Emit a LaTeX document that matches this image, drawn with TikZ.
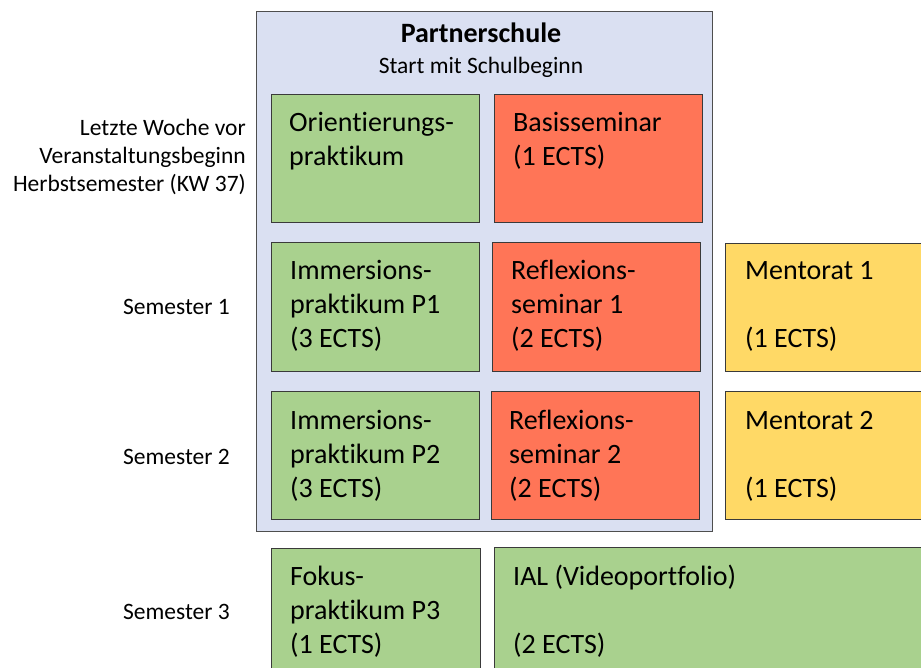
\documentclass[tikz,border=0pt]{standalone}
\usepackage{fontspec}
\setmainfont{Carlito}[RawFeature={-liga;-clig;-calt;-dlig}]
\definecolor{cgreen}{HTML}{A9D18E}
\definecolor{cred}{HTML}{FF7557}
\definecolor{cyellow}{HTML}{FFD966}
\definecolor{cblue}{HTML}{DAE0F2}
\definecolor{cborder}{HTML}{3A3A3A}
\begin{document}
\begin{tikzpicture}[x=1pt,y=-1pt,
  box/.style={draw=cborder, line width=0.9pt, anchor=north west, inner sep=0pt, outer sep=0pt},
  txt/.style={anchor=base west, align=left, inner sep=0pt, font=\fontsize{28}{34}\selectfont},
  lbl/.style={anchor=base east, align=right, inner sep=0pt, font=\fontsize{23.5}{28}\selectfont},
  head/.style={anchor=base, inner sep=0pt}]
\useasboundingbox (0,0) rectangle (921,668);
\clip (0,0) rectangle (921,668);
\fill[white] (0,0) rectangle (921,668);
% outer frame
\node[box, fill=cblue, draw=cborder!90, minimum width=456, minimum height=520] (ps) at (256,11) {};
\node[head, font=\bfseries\fontsize{28}{34}\selectfont] (pst) at (481,43) {Partnerschule};
\node[head, font=\fontsize{23.5}{28}\selectfont] (pss) at (481,74) {Start mit Schulbeginn};
% row 1 (anchor = baseline of last line)
\node[box, fill=cgreen, minimum width=208, minimum height=128] (ori) at (271,94) {};
\node[txt] (orit) at ([shift={(18,72)}]ori.north west) {Orientierungs-\\praktikum};
\node[box, fill=cred, minimum width=208, minimum height=128] (bas) at (494,94) {};
\node[txt] (bast) at ([shift={(19,72)}]bas.north west) {Basisseminar\\(1 ECTS)};
% row 2
\node[box, fill=cgreen, minimum width=208, minimum height=129] (ip1) at (271,242) {};
\node[txt] (ip1t) at ([shift={(19,106)}]ip1.north west) {Immersions-\\praktikum P1\\(3 ECTS)};
\node[box, fill=cred, minimum width=208, minimum height=129] (rs1) at (492,242) {};
\node[txt] (rs1t) at ([shift={(19,106)}]rs1.north west) {Reflexions-\\seminar 1\\(2 ECTS)};
\node[box, fill=cyellow, minimum width=220, minimum height=128] (me1) at (725,243) {};
\node[txt] (me1t) at ([shift={(20,105)}]me1.north west) {Mentorat 1\\[34pt](1 ECTS)};
% row 3
\node[box, fill=cgreen, minimum width=208, minimum height=128] (ip2) at (271,391) {};
\node[txt] (ip2t) at ([shift={(19,106)}]ip2.north west) {Immersions-\\praktikum P2\\(3 ECTS)};
\node[box, fill=cred, minimum width=208, minimum height=128] (rs2) at (491,391) {};
\node[txt] (rs2t) at ([shift={(18,106)}]rs2.north west) {Reflexions-\\seminar 2\\(2 ECTS)};
\node[box, fill=cyellow, minimum width=220, minimum height=128] (me2) at (725,391) {};
\node[txt] (me2t) at ([shift={(20,106)}]me2.north west) {Mentorat 2\\[34pt](1 ECTS)};
% row 4
\node[box, fill=cgreen, minimum width=209, minimum height=140] (fok) at (271,548) {};
\node[txt] (fokt) at ([shift={(19,105)}]fok.north west) {Fokus-\\praktikum P3\\(1 ECTS)};
\node[box, fill=cgreen, minimum width=440, minimum height=140] (ial) at (494,547) {};
\node[txt] (ialt) at ([shift={(19,106)}]ial.north west) {IAL (Videoportfolio)\\[34pt](2 ECTS)};
% left labels
\node[lbl] (l0) at (246,192) {Letzte Woche vor\\Veranstaltungsbeginn\\Herbstsemester (KW 37)};
\node[lbl] (l1) at (230,315) {Semester 1};
\node[lbl] (l2) at (230,464) {Semester 2};
\node[lbl] (l3) at (230,619) {Semester 3};
\end{tikzpicture}
\end{document}
